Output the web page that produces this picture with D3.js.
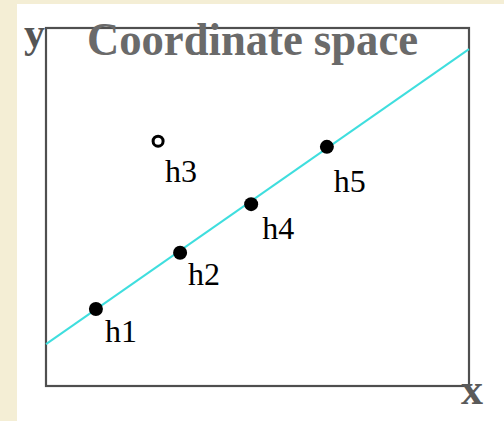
<!DOCTYPE html>
<html>
<head>
<meta charset="utf-8">
<script src="https://cdn.jsdelivr.net/npm/d3@7"></script>
<style>
  html, body { margin: 0; padding: 0; background: #f4eed5; }
  svg { display: block; }
</style>
</head>
<body>
<div id="chart"></div>
<script>
// points in coordinate space (0..100 on both axes)
const pointNames = ["h1", "h2", "h3", "h4", "h5"];
const pointX = [11.8, 31.7, 26.5, 48.5, 66.4];
const pointY = [21.5, 37.2, 68.4, 50.8, 66.8];
const pointOnLine = [true, true, false, true, true];

// fitted line end points
const lineX = [0, 100];
const lineY = [11.7, 94.1];

const titleText = "Coordinate space";
const xLabel = "x", yLabel = "y";

const width = 504, height = 421;
const box = { left: 46, right: 469, top: 28, bottom: 386 };

// label nudges (px) relative to each point
const labelDx = [9, 8, 7, 11, 7];
const labelDy = [33, 32, 41, 35, 45];

const svg = d3.select("#chart")
    .append("svg")
    .attr("width", width)
    .attr("height", height);

// white panel over paper background
svg.append("rect")
    .attr("x", 17).attr("y", 4)
    .attr("width", width - 17).attr("height", height - 4)
    .attr("fill", "#ffffff");

const x = d3.scaleLinear().domain([0, 100]).range([box.left, box.right]);
const y = d3.scaleLinear().domain([0, 100]).range([box.bottom, box.top]);

svg.append("rect")
    .attr("x", x(0)).attr("y", y(100))
    .attr("width", x(100) - x(0)).attr("height", y(0) - y(100))
    .attr("fill", "none")
    .attr("stroke", "#4f4f4f")
    .attr("stroke-width", 2.2);

const serif = "'Liberation Serif', 'DejaVu Serif', serif";

svg.append("text")
    .attr("x", 87).attr("y", 55)
    .attr("font-family", serif)
    .attr("font-weight", "bold")
    .attr("font-size", 46)
    .attr("textLength", 331)
    .attr("lengthAdjust", "spacingAndGlyphs")
    .attr("fill", "#6a6a6a")
    .text(titleText);

svg.append("text")
    .attr("x", 24).attr("y", 47)
    .attr("font-family", serif)
    .attr("font-weight", "bold")
    .attr("font-size", 42)
    .attr("fill", "#555555")
    .text(yLabel);

svg.append("text")
    .attr("x", 461).attr("y", 404)
    .attr("font-family", serif)
    .attr("font-weight", "bold")
    .attr("font-size", 44)
    .attr("fill", "#5a5a5a")
    .text(xLabel);

// the cyan line
const line = d3.line()
    .x((d) => x(d[0]))
    .y((d) => y(d[1]));

svg.append("path")
    .datum(d3.zip(lineX, lineY))
    .attr("d", line)
    .attr("fill", "none")
    .attr("stroke", "#3fdede")
    .attr("stroke-width", 2);

const pts = pointNames.map((name, i) => ({
    name, x: pointX[i], y: pointY[i], onLine: pointOnLine[i], dx: labelDx[i], dy: labelDy[i]
}));

svg.selectAll("circle.pt")
    .data(pts)
    .enter()
    .append("circle")
    .attr("class", "pt")
    .attr("cx", (d) => x(d.x))
    .attr("cy", (d) => y(d.y))
    .attr("r", (d) => d.onLine ? 7 : 5)
    .attr("fill", (d) => d.onLine ? "#000" : "#fff")
    .attr("stroke", "#000")
    .attr("stroke-width", (d) => d.onLine ? 0 : 3);

svg.selectAll("text.lbl")
    .data(pts)
    .enter()
    .append("text")
    .attr("class", "lbl")
    .attr("x", (d) => x(d.x) + d.dx)
    .attr("y", (d) => y(d.y) + d.dy)
    .attr("font-family", serif)
    .attr("font-size", 32)
    .attr("fill", "#000")
    .text((d) => d.name);
</script>
</body>
</html>
